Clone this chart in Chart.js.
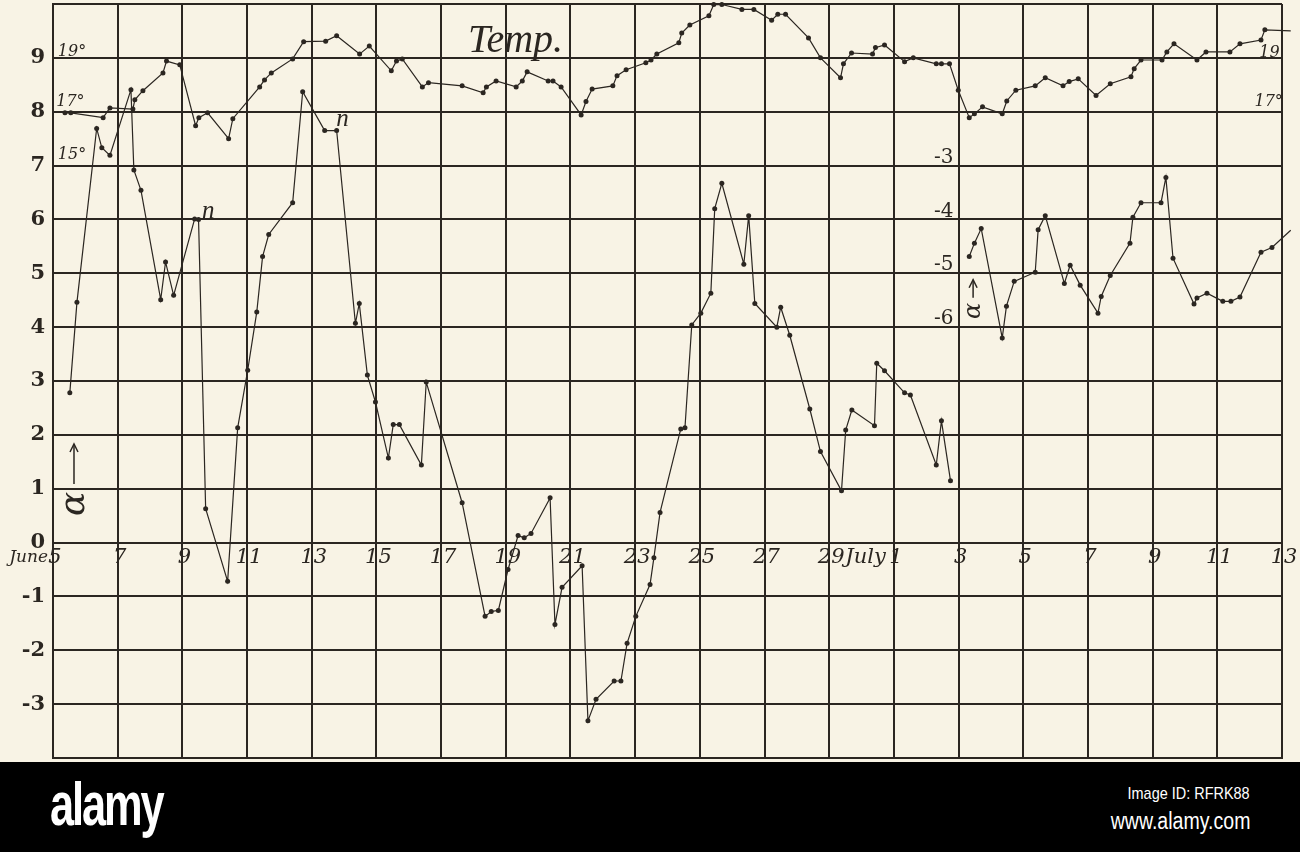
<!DOCTYPE html>
<html>
<head>
<meta charset="utf-8">
<script src="https://cdn.jsdelivr.net/npm/chart.js@4.4.1/dist/chart.umd.min.js"></script>
<style>
  body { margin: 0; background: #000; }
  #wrap { width: 1300px; height: 852px; position: relative; overflow: hidden; }
  canvas { display: block; }
  #banner { position: absolute; left: 0; top: 762px; width: 1300px; height: 90px; background: #000; color: #fff; }
  #logo { position: absolute; left: 50px; top: 6px; font: bold 62px "Liberation Sans Narrow", "Liberation Sans", sans-serif; letter-spacing: -3px; transform: scaleX(0.7); transform-origin: left; }
  #imgid { position: absolute; right: 50px; top: 22px; font: 17px "Liberation Sans Narrow", "Liberation Sans", sans-serif; transform: scaleX(0.85); transform-origin: right; }
  #site { position: absolute; right: 50px; top: 46px; font: 23px "Liberation Sans Narrow", "Liberation Sans", sans-serif; transform: scaleX(0.85); transform-origin: right; }
</style>
</head>
<body>
<div id="wrap">
  <canvas id="myChart-alpha" width="1300" height="762"></canvas>
  <div id="banner">
    <div id="logo">alamy</div>
    <div id="imgid">Image ID: RFRK88</div>
    <div id="site">www.alamy.com</div>
  </div>
</div>
<script>
// day numbers counted from June 1 (July 1 = 31)
const xTickDays = [5,7,9,11,13,15,17,19,21,23,25,27,29,31,33,35,37,39,41,43];
const xTickLabels = ['5','7','9','11','13','15','17','19','21','23','25','27','29','1','3','5','7','9','11','13'];
const yTickLabels = ['-3','-2','-1','0','1','2','3','4','5','6','7','8','9'];
const alpha2TickLabels = ['-3','-4','-5','-6'];

// main alpha curve (June 5 - July 2)
const alphaDays = [5.52,5.74,6.35,6.51,6.76,7.41,7.50,7.72,8.33,8.48,8.73,9.38,9.50,9.72,10.40,10.71,11.02,11.30,11.48,11.67,
  12.41,12.72,13.40,13.77,14.35,14.47,14.72,14.97,15.37,15.52,15.71,16.39,16.54,17.65,18.36,18.55,18.77,19.07,19.38,19.57,
  19.78,20.37,20.52,20.74,21.36,21.54,21.79,22.35,22.56,22.75,23.02,23.46,23.58,23.77,24.41,24.54,24.75,25.03,25.34,25.46,
  25.68,26.36,26.51,26.70,27.38,27.50,27.78,28.40,28.73,29.38,29.51,29.70,30.40,30.47,30.71,31.33,31.51,32.31,32.47,32.75];
const alphaVals = [2.78,4.46,7.69,7.33,7.19,8.41,6.92,6.54,4.51,5.21,4.59,6.01,6.00,0.63,-0.72,2.13,3.2,4.28,5.31,5.72,
  6.31,8.37,7.65,7.65,4.07,4.44,3.11,2.61,1.57,2.19,2.19,1.44,2.98,0.74,-1.37,-1.28,-1.26,-0.5,0.13,0.09,
  0.17,0.83,-1.52,-0.83,-0.43,-3.31,-2.91,-2.57,-2.57,-1.87,-1.37,-0.78,-0.28,0.56,2.11,2.13,4.04,4.26,4.63,6.2,
  6.67,5.17,6.07,4.44,4.0,4.37,3.85,2.48,1.69,0.96,2.09,2.46,2.17,3.33,3.19,2.78,2.74,1.44,2.26,1.15];

// second alpha curve (July 3 - July 13), own scale
const alpha2Days = [33.33,33.49,33.70,34.35,34.48,34.72,35.37,35.46,35.68,36.27,36.45,36.76,37.31,37.41,37.69,
  38.30,38.39,38.64,39.26,39.41,39.63,40.28,40.37,40.68,41.17,41.42,41.70,42.35,42.69,43.27];
const alpha2Vals = [-4.69,-4.44,-4.17,-6.2,-5.61,-5.15,-4.98,-4.19,-3.93,-5.19,-4.85,-5.22,-5.74,-5.43,-5.04,
  -4.44,-3.96,-3.69,-3.69,-3.22,-4.72,-5.57,-5.46,-5.37,-5.52,-5.52,-5.44,-4.61,-4.52,-4.2];

// temperature, degrees
const tempDays = [5.37,5.55,6.55,6.76,7.47,7.53,7.78,8.40,8.51,8.92,9.41,9.51,9.78,10.43,10.56,11.39,11.54,11.75,12.41,12.75,
  13.43,13.77,14.48,14.78,15.46,15.62,15.80,16.42,16.61,17.65,18.30,18.40,18.70,19.32,19.51,19.66,20.31,20.46,20.71,21.33,
  21.48,21.67,22.31,22.44,22.72,23.33,23.49,23.67,24.35,24.44,24.69,25.28,25.43,25.68,26.30,26.67,27.22,27.41,27.65,28.36,
  28.73,29.35,29.44,29.69,30.34,30.43,30.71,31.33,31.60,32.31,32.47,32.72,32.99,33.33,33.49,33.74,34.35,34.49,34.77,35.37,
  35.68,36.23,36.42,36.70,37.25,37.69,38.33,38.43,38.64,39.29,39.44,39.66,40.37,40.65,41.39,41.70,42.35,42.47,43.27];
const tempVals = [16.96,16.96,16.78,17.14,17.1,17.44,17.78,18.44,18.88,18.74,16.48,16.78,16.96,16.0,16.74,17.92,18.18,18.44,18.96,19.6,
  19.62,19.82,19.14,19.44,18.52,18.88,18.96,17.92,18.08,17.96,17.7,17.92,18.14,17.92,18.14,18.48,18.14,18.14,17.92,16.88,
  17.38,17.84,17.96,18.34,18.56,18.82,18.92,19.14,19.56,19.92,20.22,20.56,20.98,20.98,20.8,20.8,20.4,20.62,20.62,19.74,
  19.0,18.26,18.78,19.18,19.14,19.38,19.48,18.86,19.0,18.78,18.78,18.78,17.8,16.78,16.92,17.18,16.92,17.4,17.8,17.96,
  18.26,17.96,18.12,18.22,17.6,18.04,18.3,18.6,18.92,18.92,19.22,19.52,18.92,19.22,19.22,19.52,19.66,20.04,20.0];

const ink = '#2b2621';
const paper = '#f8f3e5';

const pts = (xs, ys) => xs.map((x, i) => ({ x: x, y: ys[i] }));

const series = (data, axis) => ({
  data: data,
  yAxisID: axis,
  showLine: true,
  borderColor: ink,
  borderWidth: 1.2,
  pointRadius: 2.5,
  pointBackgroundColor: ink,
  pointBorderWidth: 0,
  tension: 0,
  clip: false
});

const paperPlugin = {
  id: 'paper',
  beforeDraw(chart) {
    const c = chart.ctx;
    c.save();
    c.fillStyle = paper;
    c.fillRect(0, 0, chart.width, chart.height);
    c.restore();
  }
};

const notesPlugin = {
  id: 'notes',
  afterDraw(chart) {
    const c = chart.ctx;
    const xs = chart.scales.x, ys = chart.scales.y, y3 = chart.scales.y3;
    const X = d => xs.getPixelForValue(d);
    const Y = v => ys.getPixelForValue(v);
    c.save();
    c.fillStyle = ink;
    c.strokeStyle = ink;

    // day labels along the zero line
    c.font = 'italic 21px "DejaVu Serif"';
    c.textAlign = 'center';
    c.textBaseline = 'middle';
    xTickDays.forEach((d, i) => c.fillText(xTickLabels[i], X(d) + 2, Y(0) + 15));
    c.textAlign = 'right';
    c.fillText('July', X(31) - 8, Y(0) + 15);
    c.font = 'italic 17px "DejaVu Serif"';
    c.fillText('June', X(5) - 5, Y(0) + 15);

    // scale of second alpha curve
    c.font = '20px "DejaVu Serif"';
    c.textAlign = 'right';
    alpha2TickLabels.forEach(t => c.fillText(t, X(33) - 5, y3.getPixelForValue(+t) - 8));

    // temperature scale marks
    c.font = 'italic 16px "DejaVu Serif"';
    c.textAlign = 'left';
    c.fillText('19°', X(5.15), Y(9.12));
    c.fillText('17°', X(5.1), Y(8.18));
    c.fillText('15°', X(5.15), Y(7.2));
    c.fillText('19', X(42.3), Y(9.1));
    c.fillText('17°', X(42.15), Y(8.18));

    c.font = 'italic 40px "Liberation Serif"';
    c.textAlign = 'center';
    c.fillText('Temp.', X(19.3), Y(9.3));

    c.font = 'italic 25px "Liberation Serif"';
    c.fillText('n', X(9.8), Y(6.15));
    c.fillText('n', X(13.95), Y(7.85));

    // alpha marks with arrows
    const alphaMark = (d, v, size, len) => {
      const px = X(d), py = Y(v);
      c.save();
      c.translate(px, py);
      c.rotate(-Math.PI / 2);
      c.font = 'italic ' + size + 'px "DejaVu Serif"';
      c.textAlign = 'center';
      c.fillText('α', 0, 0);
      c.restore();
      c.lineWidth = 1.5;
      c.beginPath();
      c.moveTo(px - 1, py - size * 0.55);
      c.lineTo(px - 1, py - size * 0.55 - len);
      c.stroke();
      c.beginPath();
      c.moveTo(px - 5, py - size * 0.55 - len + 8);
      c.lineTo(px - 1, py - size * 0.55 - len);
      c.lineTo(px + 3, py - size * 0.55 - len + 8);
      c.stroke();
    };
    alphaMark(5.68, 0.72, 36, 40);
    alphaMark(33.48, 4.3, 24, 18);

    c.restore();
  }
};

new Chart(document.getElementById('myChart-alpha'), {
  type: 'scatter',
  data: {
    datasets: [
      series(pts(alphaDays, alphaVals), 'y'),
      series(pts(alpha2Days, alpha2Vals), 'y3'),
      series(pts(tempDays, tempVals), 'y2')
    ]
  },
  options: {
    responsive: false,
    animation: false,
    devicePixelRatio: 1,
    layout: { padding: { top: 3, right: 18, bottom: 4, left: 0 } },
    plugins: { legend: { display: false }, tooltip: { enabled: false } },
    scales: {
      x: {
        type: 'linear',
        min: 5,
        max: 43,
        ticks: { stepSize: 2, display: false },
        grid: { color: ink, lineWidth: 2, drawTicks: false },
        border: { color: ink, width: 2 },
        afterFit(scale) { scale.height = 0; scale.paddingLeft = 0; scale.paddingRight = 0; }
      },
      y: {
        min: -4,
        max: 10,
        ticks: {
          stepSize: 1,
          color: ink,
          padding: 8,
          font: { family: 'DejaVu Serif', size: 21, weight: 'bold' },
          callback: v => yTickLabels.includes(String(v)) ? String(v) : ''
        },
        grid: { color: ink, lineWidth: 2, drawTicks: false },
        border: { color: ink, width: 2 },
        afterFit(scale) { scale.width = 53; scale.paddingTop = 0; scale.paddingBottom = 0; }
      },
      y2: { display: false, min: -7, max: 21 },
      y3: { display: false, min: -14, max: 0 }
    }
  },
  plugins: [paperPlugin, notesPlugin]
});
</script>
</body>
</html>
